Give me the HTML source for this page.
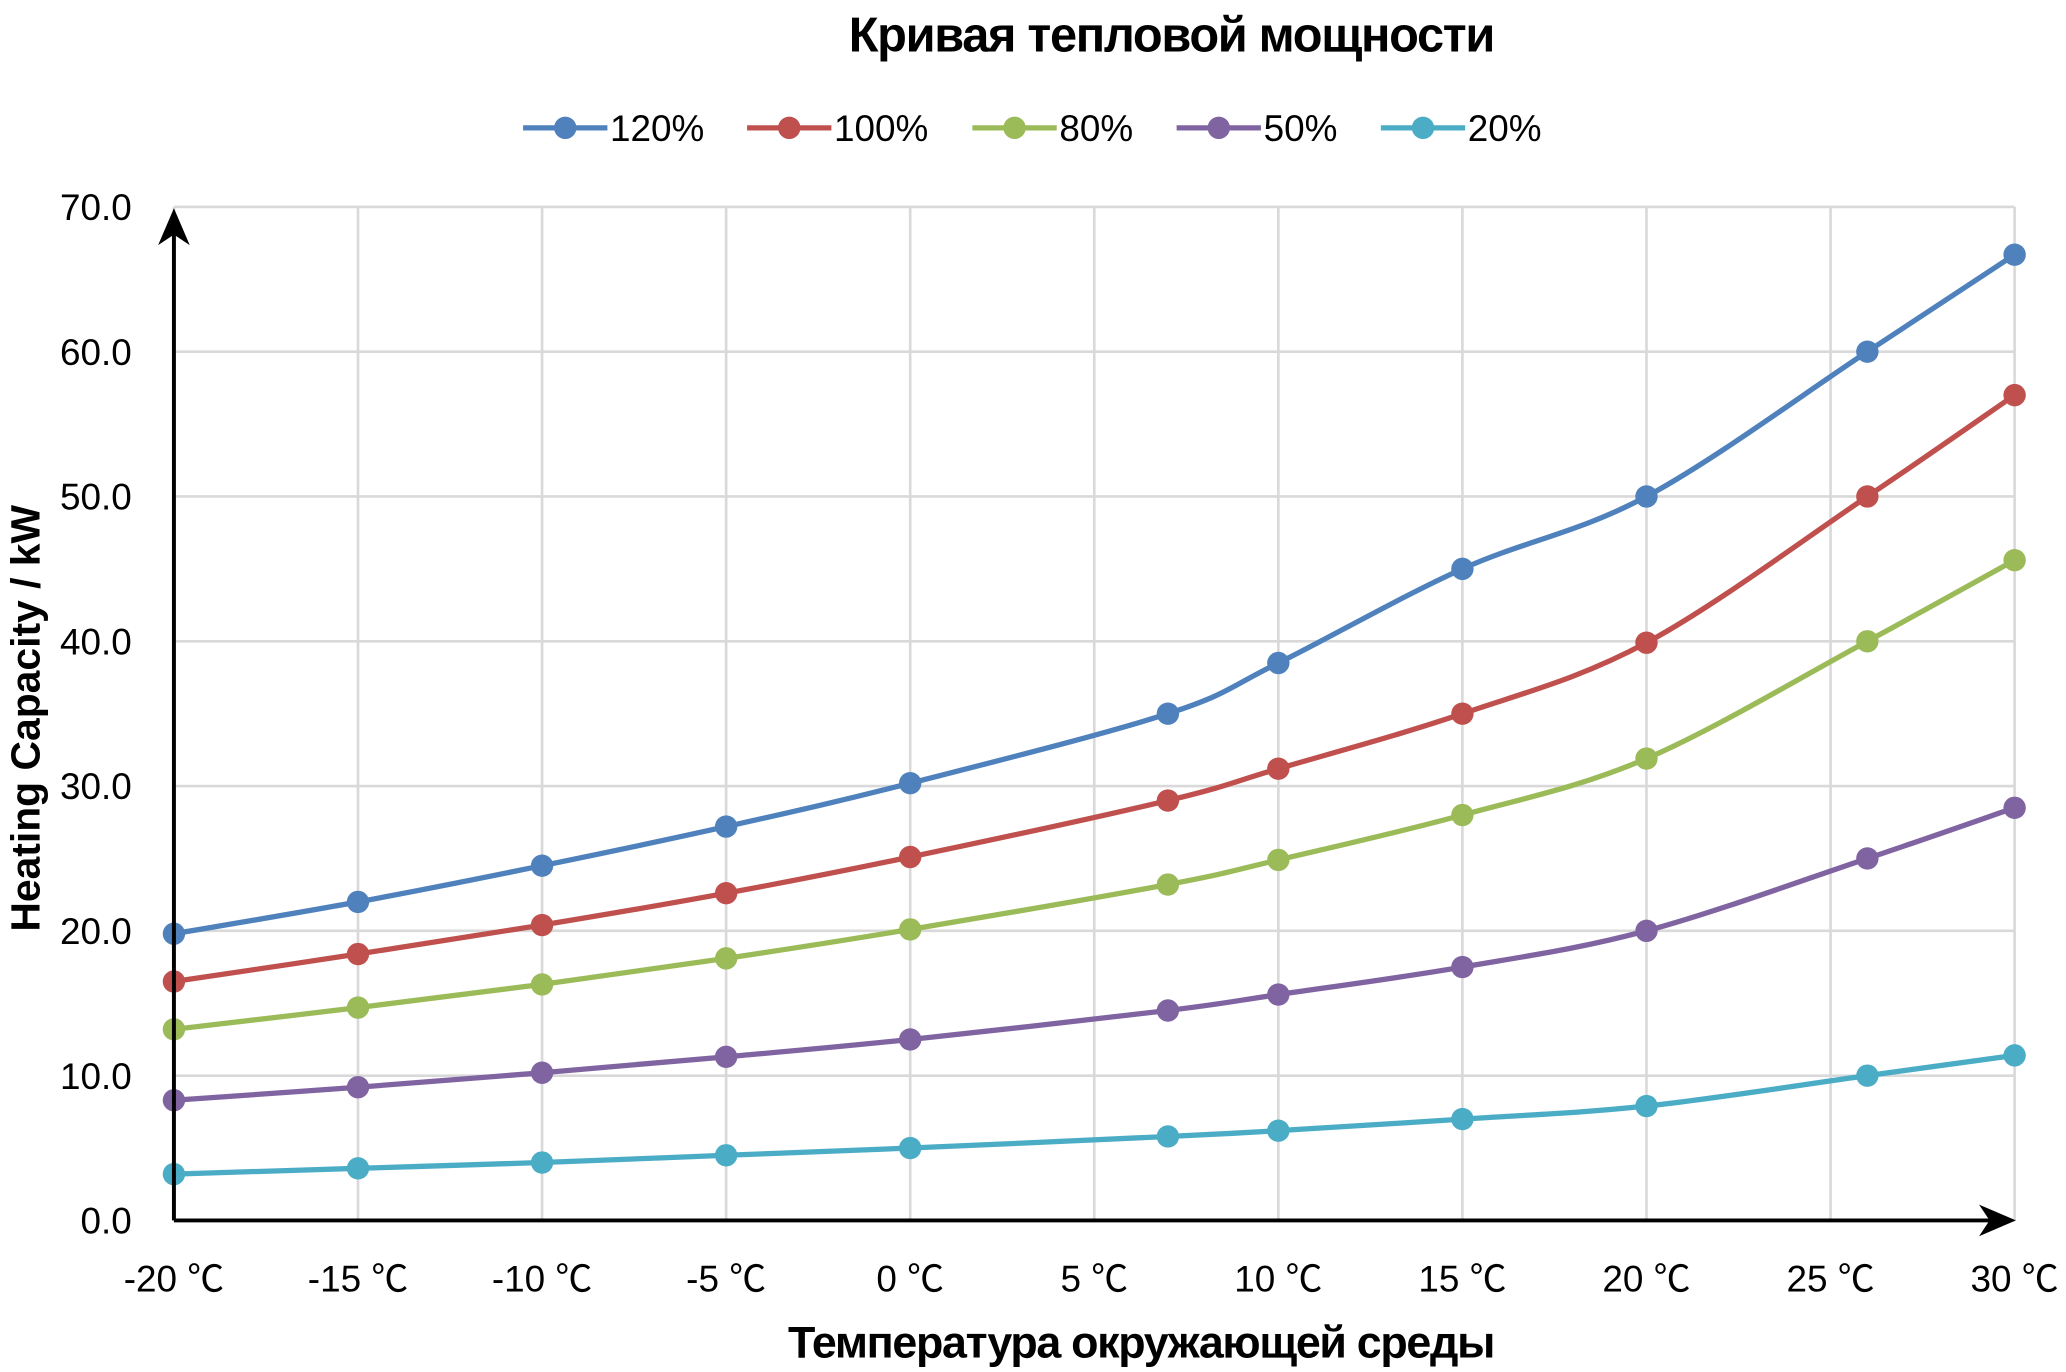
<!DOCTYPE html>
<html><head><meta charset="utf-8"><style>
html,body{margin:0;padding:0;background:#fff;}
svg{display:block;font-family:"Liberation Sans","Noto Sans CJK SC",sans-serif;}
</style></head><body>
<svg id="s" width="2066" height="1372" viewBox="0 0 1568 1041" preserveAspectRatio="none" xmlns="http://www.w3.org/2000/svg">
<rect width="1568" height="1041" fill="#fff"/>
<g id="grid" stroke="#d9d9d9" stroke-width="2"></g>
<text x="889" y="39" text-anchor="middle" font-size="37" font-weight="bold" letter-spacing="-1">Кривая тепловой мощности</text>
<g id="legend"></g>
<g id="series"></g>
<g stroke="#000" stroke-width="3" fill="none">
<line x1="132" y1="926" x2="132" y2="170"/>
<line x1="132" y1="926" x2="1518" y2="926"/>
</g>
<polygon points="132,158 120,186 132,178 144,186" fill="#000"/>
<polygon points="1530,926 1502,914 1510,926 1502,938" fill="#000"/>
<g id="labels" font-size="28" fill="#000"></g>
<text x="866" y="1030" text-anchor="middle" font-size="34" font-weight="bold" letter-spacing="-1">Температура окружающей среды</text>
<text transform="translate(30,545) rotate(-90)" text-anchor="middle" font-size="31" font-weight="bold">Heating Capacity / kW</text>
</svg>
<script>
const NS="http://www.w3.org/2000/svg";
function el(t,a,p,txt){const e=document.createElementNS(NS,t);for(const k in a)e.setAttribute(k,a[k]);if(txt!==undefined)e.textContent=txt;p.appendChild(e);return e;}
const X=v=>132+(v+20)*27.94, Y=v=>926-v*10.986;
const g=document.getElementById('grid'),lb=document.getElementById('labels');
for(let i=0;i<=10;i++){const x=132+i*139.7;el('line',{x1:x,y1:157,x2:x,y2:926},g);
 el('text',{x:x,y:980,'text-anchor':'middle'},lb,(-20+5*i)+' ℃');}
for(let j=0;j<=7;j++){const y=Y(j*10);el('line',{x1:132,y1:y,x2:1529,y2:y},g);
 el('text',{x:100,y:y+10,'text-anchor':'end'},lb,(j*10).toFixed(1));}
const xs=[-20,-15,-10,-5,0,7,10,15,20,26,30];
const S=[["120%","#4F81BD",[19.8,22,24.5,27.2,30.2,35,38.5,45,50,60,66.7]],
["100%","#C0504D",[16.5,18.4,20.4,22.6,25.1,29,31.2,35,39.9,50,57]],
["80%","#9BBB59",[13.2,14.7,16.3,18.1,20.1,23.2,24.9,28,31.9,40,45.6]],
["50%","#8064A2",[8.3,9.2,10.2,11.3,12.5,14.5,15.6,17.5,20,25,28.5]],
["20%","#4BACC6",[3.2,3.6,4.0,4.5,5.0,5.8,6.2,7.0,7.9,10,11.4]]];
const sg=document.getElementById('series'),lg=document.getElementById('legend');
const lx=[397,567,738,893,1048];
S.forEach((s,k)=>{const P=xs.map((x,i)=>[X(x),Y(s[2][i])]);
 let d='M'+P[0][0]+','+P[0][1];
 for(let i=0;i<P.length-1;i++){const p0=P[Math.max(i-1,0)],p1=P[i],p2=P[i+1],p3=P[Math.min(i+2,P.length-1)];
  const c1=[p1[0]+(p2[0]-p0[0])/6,p1[1]+(p2[1]-p0[1])/6],c2=[p2[0]-(p3[0]-p1[0])/6,p2[1]-(p3[1]-p1[1])/6];
  d+=` C${c1[0]},${c1[1]} ${c2[0]},${c2[1]} ${p2[0]},${p2[1]}`;}
 el('path',{d:d,fill:'none',stroke:s[1],'stroke-width':4},sg);
 P.forEach(p=>el('circle',{cx:p[0],cy:p[1],r:8.5,fill:s[1]},sg));
 const x=lx[k];el('line',{x1:x,y1:97,x2:x+64,y2:97,stroke:s[1],'stroke-width':4},lg);
 el('circle',{cx:x+32,cy:97,r:8.5,fill:s[1]},lg);
 el('text',{x:x+66,y:107,'font-size':28},lg,s[0]);});
</script>
</body></html>
